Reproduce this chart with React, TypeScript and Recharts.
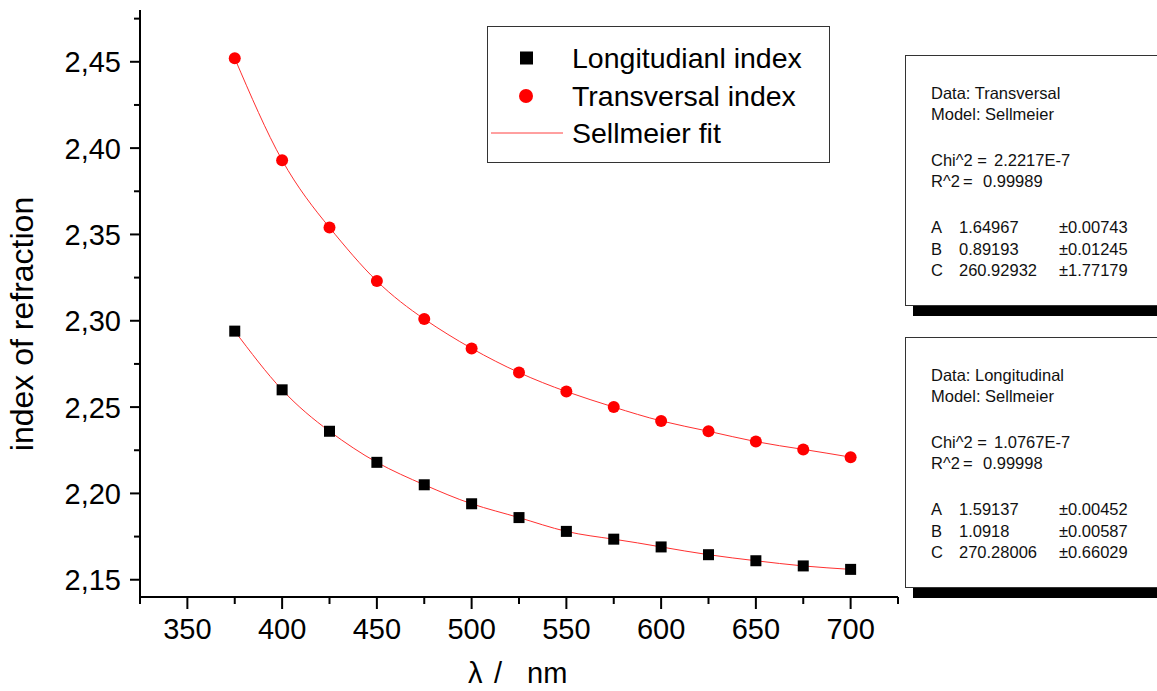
import { ComposedChart, Line, Scatter, XAxis, YAxis } from "recharts"

const FONT = "'Liberation Sans', Arial, sans-serif"

const wavelengths = [375, 400, 425, 450, 475, 500, 525, 550, 575, 600, 625, 650, 675, 700]
const transversal = [2.452, 2.393, 2.354, 2.323, 2.301, 2.284, 2.27, 2.259, 2.25, 2.242, 2.236, 2.23, 2.2255, 2.221]
const longitudinal = [2.294, 2.26, 2.236, 2.218, 2.205, 2.194, 2.186, 2.178, 2.1735, 2.169, 2.1645, 2.161, 2.158, 2.156]

const xTicks = [325, 350, 375, 400, 425, 450, 475, 500, 525, 550, 575, 600, 625, 650, 675, 700, 725]
const xLabels = [350, 400, 450, 500, 550, 600, 650, 700]
const yTicks = [2.15, 2.175, 2.2, 2.225, 2.25, 2.275, 2.3, 2.325, 2.35, 2.375, 2.4, 2.425, 2.45, 2.475]
const yLabels = [2.15, 2.2, 2.25, 2.3, 2.35, 2.4, 2.45]

const legendItems = ["Longitudianl index", "Transversal index", "Sellmeier fit"]

const transFit = [
  ["Data: Transversal"],
  ["Model: Sellmeier"],
  ["Chi^2 =", "2.2217E-7"],
  ["R^2", "=", "0.99989"],
  ["A", "1.64967", "±0.00743"],
  ["B", "0.89193", "±0.01245"],
  ["C", "260.92932", "±1.77179"],
]
const longFit = [
  ["Data: Longitudinal"],
  ["Model: Sellmeier"],
  ["Chi^2 =", "1.0767E-7"],
  ["R^2", "=", "0.99998"],
  ["A", "1.59137", "±0.00452"],
  ["B", "1.0918", "±0.00587"],
  ["C", "270.28006", "±0.66029"],
]

const rows = wavelengths.map((wl, i) => ({ wl, long: longitudinal[i], trans: transversal[i] }))

const PLOT_LEFT = 140
const PLOT_BOTTOM = 597

const isLabel = (list: number[], v: number) => list.some((t) => Math.abs(t - v) < 1e-6)

function XTick(props: any) {
  const { x, payload } = props
  const major = isLabel(xLabels, payload.value)
  return (
    <g>
      <line x1={x} x2={x} y1={PLOT_BOTTOM} y2={PLOT_BOTTOM + (major ? 12 : 7)} stroke="#000" strokeWidth={2} />
      {major && (
        <text x={x} y={PLOT_BOTTOM + 42} textAnchor="middle" fontSize={29} fontFamily={FONT} fill="#000">
          {payload.value}
        </text>
      )}
    </g>
  )
}

function YTick(props: any) {
  const { y, payload } = props
  const major = isLabel(yLabels, payload.value)
  return (
    <g>
      <line x1={PLOT_LEFT} x2={PLOT_LEFT - (major ? 10 : 6)} y1={y} y2={y} stroke="#000" strokeWidth={2} />
      {major && (
        <text x={121} y={y} dy="0.36em" textAnchor="end" fontSize={29} fontFamily={FONT} fill="#000">
          {payload.value.toFixed(2).replace(".", ",")}
        </text>
      )}
    </g>
  )
}

const Square = (p: any) => <rect x={p.cx - 5.5} y={p.cy - 5.5} width={11} height={11} fill="#000" />
const Dot = (p: any) => <circle cx={p.cx} cy={p.cy} r={6} fill="#ff0000" />

function FitBox({ top, lines }: { top: number; lines: string[][] }) {
  const ys = [38, 59, 105, 126, 172, 194, 215]
  return (
    <>
      <div style={{ position: "absolute", left: 913, top: top + 10, width: 300, height: 251, background: "#000" }} />
      <svg style={{ position: "absolute", left: 905, top }} width={260} height={251}>
        <rect x={0.5} y={0.5} width={280} height={250} fill="#fff" stroke="#333" strokeWidth={1} />
        {lines.map((ln, i) => {
          let xs = [26]
          if (ln.length === 2) xs = [26, 89]
          if (ln.length === 3 && i === 3) xs = [26, 58, 78]
          if (ln.length === 3 && i > 3) xs = [26, 54, 154]
          return ln.map((t, j) => (
            <text key={i + "-" + j} x={xs[j]} y={ys[i]} dy="0.36em" fontSize={16.5} fontFamily={FONT} fill="#111">
              {t}
            </text>
          ))
        })}
      </svg>
    </>
  )
}

function LegendBox() {
  const ys = [32, 70, 107]
  return (
    <svg style={{ position: "absolute", left: 487, top: 26 }} width={344} height={138}>
      <rect x={0.5} y={0.5} width={342} height={136} fill="#fff" stroke="#333" strokeWidth={1} />
      <rect x={33} y={ys[0] - 6.5} width={13} height={13} fill="#000" />
      <circle cx={39} cy={ys[1]} r={7} fill="#ff0000" />
      <line x1={4} x2={76} y1={ys[2]} y2={ys[2]} stroke="#ff4040" strokeWidth={1} />
      {legendItems.map((t, i) => (
        <text key={t} x={85} y={ys[i]} dy="0.36em" fontSize={28.5} fontFamily={FONT} fill="#000">
          {t}
        </text>
      ))}
    </svg>
  )
}

export default function App() {
  return (
    <div style={{ position: "absolute", left: 0, top: 0, width: 1157, height: 691, overflow: "hidden", background: "#fff" }}>
      <ComposedChart width={1157} height={691} data={rows} margin={{ top: 10, right: 259, left: 0, bottom: 54 }}>
        <XAxis
          dataKey="wl"
          type="number"
          domain={[325, 725]}
          ticks={xTicks}
          interval={0}
          allowDataOverflow
          height={40}
          tickLine={false}
          tickSize={0}
          axisLine={{ stroke: "#000", strokeWidth: 2 }}
          tick={<XTick />}
          label={{
            content: () => (
              <text y={683} fontSize={29} fontFamily={FONT} fill="#000">
                <tspan x={468}>λ</tspan>
                <tspan x={494}>/</tspan>
                <tspan x={527}>nm</tspan>
              </text>
            ),
          }}
        />
        <YAxis
          type="number"
          domain={[2.14, 2.48]}
          ticks={yTicks}
          interval={0}
          allowDataOverflow
          width={140}
          tickLine={false}
          tickSize={0}
          axisLine={{ stroke: "#000", strokeWidth: 2 }}
          tick={<YTick />}
          label={{
            content: () => (
              <text
                x={33}
                y={324}
                transform="rotate(-90, 33, 324)"
                textAnchor="middle"
                fontSize={32}
                fontFamily={FONT}
                fill="#000"
              >
                index of refraction
              </text>
            ),
          }}
        />
        <Scatter data={rows} dataKey="long" shape={<Square />} isAnimationActive={false} />
        <Scatter data={rows} dataKey="trans" shape={<Dot />} isAnimationActive={false} />
        <Line type="natural" dataKey="long" stroke="#ff3030" strokeWidth={1} dot={false} activeDot={false} isAnimationActive={false} />
        <Line type="natural" dataKey="trans" stroke="#ff3030" strokeWidth={1} dot={false} activeDot={false} isAnimationActive={false} />
      </ComposedChart>
      <LegendBox />
      <FitBox top={55} lines={transFit} />
      <FitBox top={337} lines={longFit} />
    </div>
  )
}
